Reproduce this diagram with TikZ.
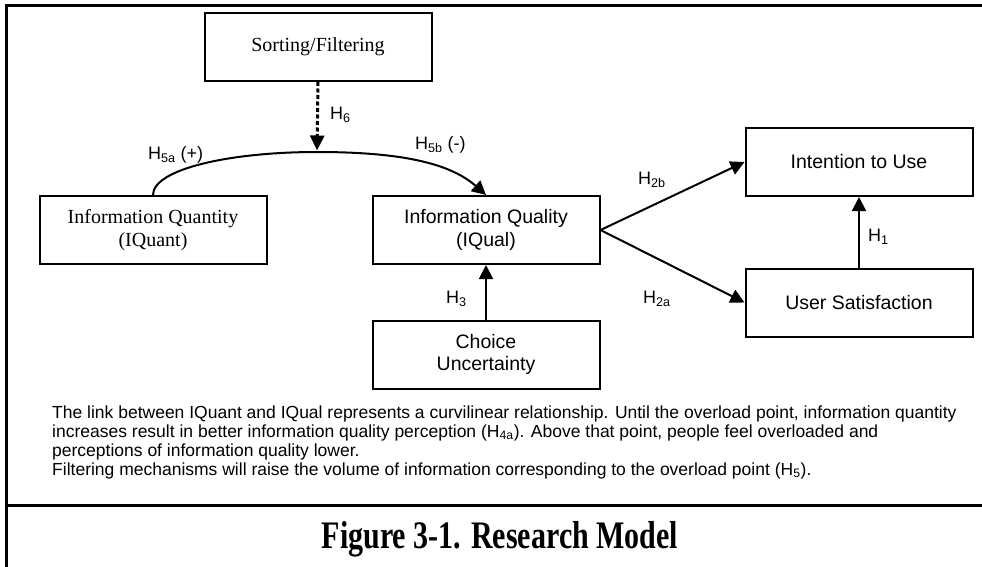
\documentclass[tikz,border=0pt]{standalone}
\usepackage{fontspec}
\setmainfont{Liberation Serif}
\setsansfont{Liberation Sans}
\usetikzlibrary{arrows.meta}

\newcommand{\hyp}[1]{H\textsubscript{#1}}

\begin{document}
\begin{tikzpicture}[x=1pt,y=-1pt,
  box/.style={draw, line width=2pt, minimum width=227pt, minimum height=68pt,
    inner sep=0pt, align=center},
  serifbox/.style={box, font=\fontsize{20}{23}\selectfont},
  sansbox/.style={box, font=\sffamily\fontsize{19.5}{22.5}\selectfont},
  link/.style={line width=2pt, -{Triangle[length=14pt,width=14pt]}},
  dotlink/.style={line width=3pt, dash pattern=on 4pt off 2.5pt,
    -{Triangle[length=15pt,width=14pt]}},
  hlabel/.style={font=\sffamily\fontsize{18}{20}\selectfont, inner sep=0pt,
    anchor=base west},
  frame/.style={line width=3pt},
]
\useasboundingbox (0,0) rectangle (982,567);

% outer frame, open to the right and bottom, with the caption divider
\draw[frame] (6,567) -- (6,6) -- (982,6);
\draw[frame] (6,505) -- (982,505);

% constructs
\node[serifbox] (sort)    at (318,47)    {Sorting/Filtering};
\node[serifbox] (iquant)  at (153,230)   {Information Quantity\\(IQuant)};
\node[sansbox]  (iqual)   at (486,230)   {Information Quality\\(IQual)};
\node[sansbox]  (choice)  at (486,354.5) {Choice\\Uncertainty};
\node[sansbox]  (intent)  at (859,162)   {Intention to Use};
\node[sansbox]  (usersat) at (859,302.5) {User Satisfaction};

% curvilinear IQuant -> IQual link
\coordinate (peak) at (317,152);
\draw[link] (iquant.north) .. controls +(0,-26) and +(-87,0) .. (peak)
  .. controls +(90,0) and +(-34,-30) .. (iqual.north);

% moderating effect of sorting/filtering
\draw[dotlink, shorten >=1.5pt] (sort.south) -- (peak);

% direct paths
\draw[link] (iqual.east) -- (intent.west);
\draw[link] (iqual.east) -- (usersat.west);
\draw[link] (usersat.north) -- (intent.south);
\draw[link] (choice.north) -- (iqual.south);

% hypothesis labels
\node[hlabel] (h6)  at (330,119.5) {\hyp{6}};
\node[hlabel] (h5a) at (148,159.5) {\hyp{5a} (+)};
\node[hlabel] (h5b) at (415,149.5) {\hyp{5b} (-)};
\node[hlabel] (h2b) at (638,184.5) {\hyp{2b}};
\node[hlabel] (h2a) at (643,303.5) {\hyp{2a}};
\node[hlabel] (h1)  at (868,241.5) {\hyp{1}};
\node[hlabel] (h3)  at (446,303.5) {\hyp{3}};

% explanatory note (base anchor sits on the last line)
\node[anchor=base west, inner sep=0pt, align=left,
  font=\sffamily\fontsize{17.5}{19}\selectfont] (note) at (52,475)
  {The link between IQuant and IQual represents a curvilinear relationship. Until the overload point, information quantity\\
   increases result in better information quality perception (\hyp{4a}). Above that point, people feel overloaded and\\
   perceptions of information quality lower.\\
   Filtering mechanisms will raise the volume of information corresponding to the overload point (\hyp{5}).};

% caption, set in tall narrow bold type
\node[font=\bfseries\fontsize{30}{34}\selectfont, inner sep=0pt, anchor=base]
  (caption) at (500,548) {\scalebox{1}[1.3]{Figure 3-1. Research Model}};
\end{tikzpicture}
\end{document}
